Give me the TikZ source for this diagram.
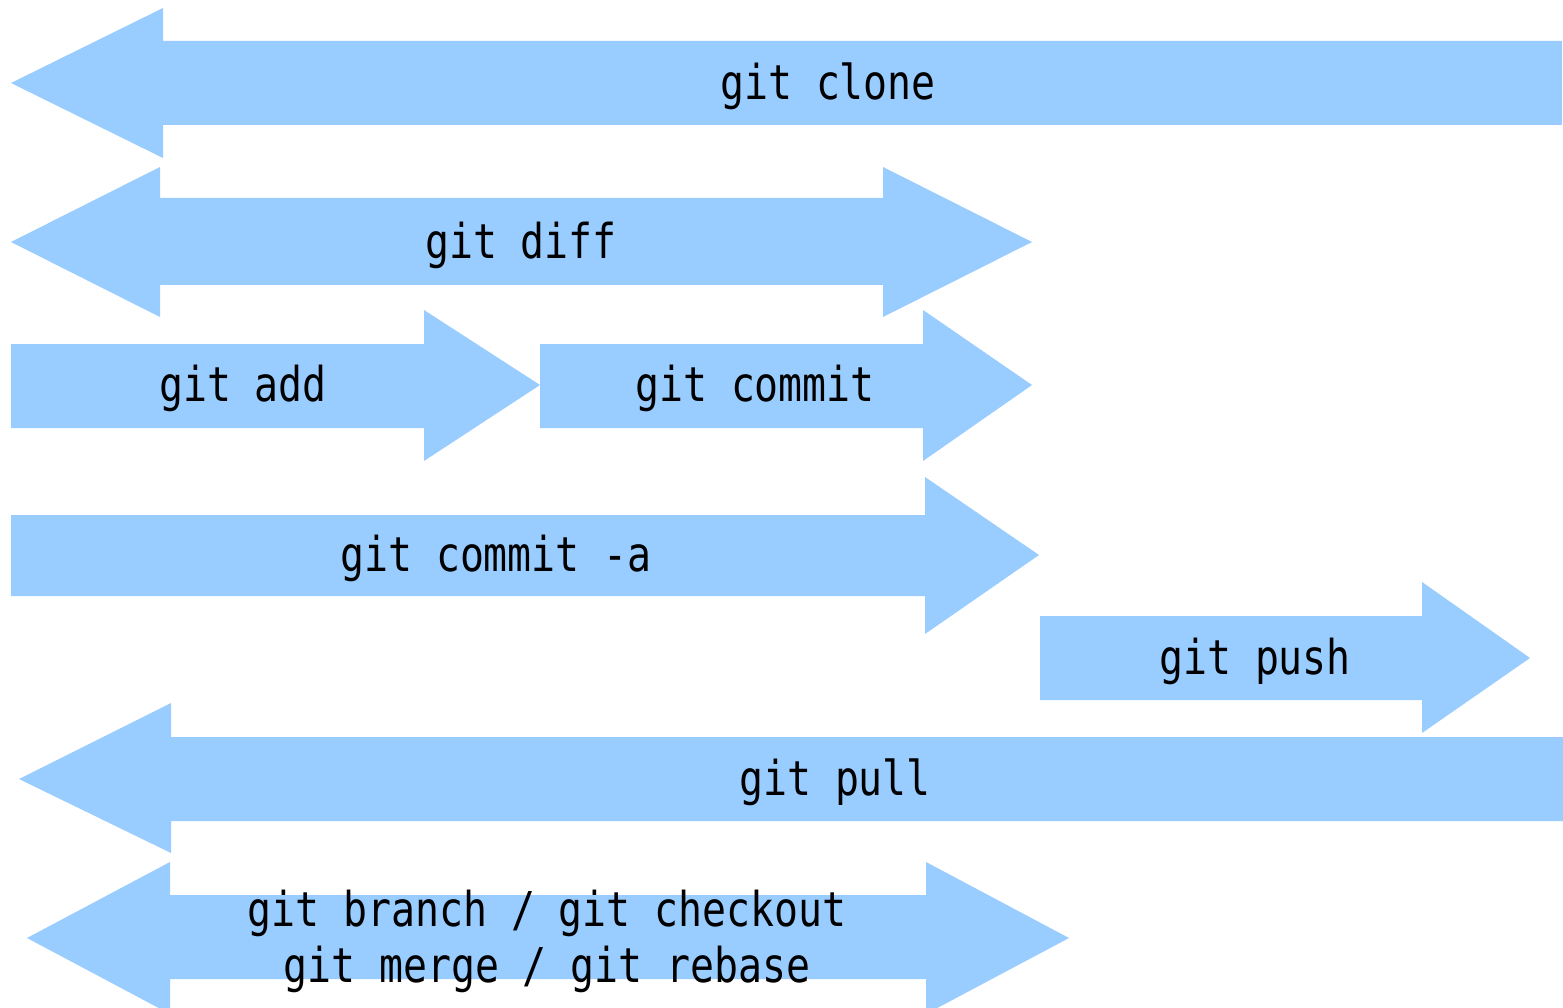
\documentclass[tikz,border=0pt]{standalone}
\usepackage{fontspec}
\newfontfamily\gitfont[FakeStretch=0.83]{DejaVu Sans Mono}
\definecolor{arrowblue}{HTML}{99CCFF}
\begin{document}
\begin{tikzpicture}[x=1pt,y=-1pt,
  arr/.style={fill=arrowblue,draw=none},
  lbl/.style={font=\gitfont\fontsize{48}{56}\selectfont,text=black,inner sep=0pt,align=center}]
\clip (0,0) rectangle (1563,1008);
\fill[white] (0,0) rectangle (1563,1008);
% git clone
\path[arr] (11,83) -- (163,8) -- (163,41) -- (1562,41) -- (1562,125) -- (163,125) -- (163,158) -- cycle;
% git diff
\path[arr] (11,242) -- (160,167) -- (160,198) -- (883,198) -- (883,167) -- (1032,242) -- (883,317) -- (883,285) -- (160,285) -- (160,317) -- cycle;
% git add
\path[arr] (11,344) -- (424,344) -- (424,310) -- (540,385) -- (424,461) -- (424,428) -- (11,428) -- cycle;
% git commit
\path[arr] (540,344) -- (923,344) -- (923,310) -- (1032,385) -- (923,461) -- (923,428) -- (540,428) -- cycle;
% git commit -a
\path[arr] (11,515) -- (925,515) -- (925,477) -- (1039,555) -- (925,634) -- (925,596) -- (11,596) -- cycle;
% git push
\path[arr] (1040,616) -- (1422,616) -- (1422,582) -- (1530,658) -- (1422,733) -- (1422,700) -- (1040,700) -- cycle;
% git pull
\path[arr] (19,779) -- (171,703) -- (171,737) -- (1563,737) -- (1563,821) -- (171,821) -- (171,853) -- cycle;
% git branch / merge
\path[arr] (27,938) -- (170,862) -- (170,895) -- (926,895) -- (926,862) -- (1069,938) -- (926,1014) -- (926,979) -- (170,979) -- (170,1014) -- cycle;
% labels
\node[lbl] (clone) at (828,86) {git clone};
\node[lbl] (diff) at (521,245) {git diff};
\node[lbl] (add) at (243,388) {git add};
\node[lbl] (commit) at (755,388) {git commit};
\node[lbl] (commita) at (496,558) {git commit -a};
\node[lbl] (push) at (1255,661) {git push};
\node[lbl] (pull) at (835,782) {git pull};
\node[lbl] (branch) at (547,941) {git branch / git checkout\\git merge / git rebase};
\end{tikzpicture}
\end{document}
